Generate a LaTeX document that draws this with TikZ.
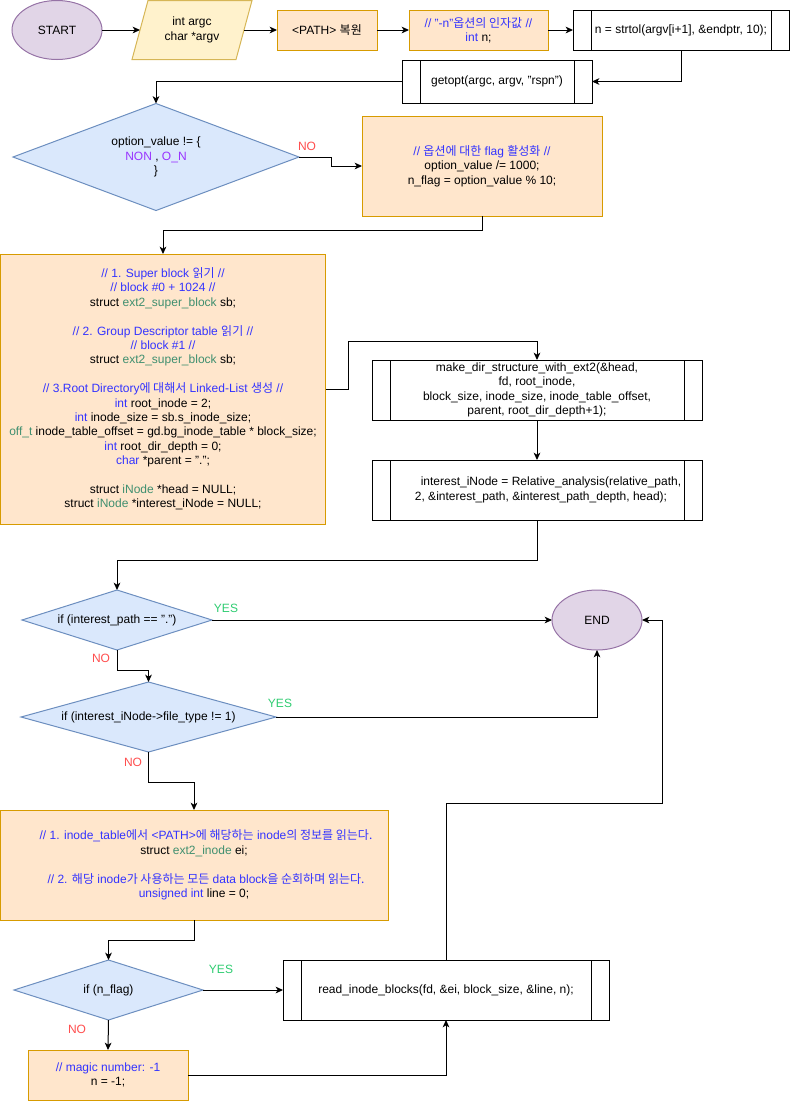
\documentclass[tikz,border=0pt]{standalone}
\usepackage{fontspec}
\setmainfont{Liberation Sans}
\newfontfamily\krfont{Noto Sans CJK KR}
\newcommand\hk[1]{{\krfont #1}}
\usetikzlibrary{shapes.geometric,arrows.meta}
\definecolor{cmt}{HTML}{3333FF}
\definecolor{typ}{HTML}{3F8F6F}
\definecolor{pur}{HTML}{9933FF}
\definecolor{nored}{HTML}{FF4D4D}
\definecolor{yesgr}{HTML}{2ECC71}
\definecolor{ellF}{HTML}{E1D5E7}
\definecolor{ellD}{HTML}{9673A6}
\definecolor{parF}{HTML}{FFF2CC}
\definecolor{parD}{HTML}{D6B656}
\definecolor{orF}{HTML}{FFE6CC}
\definecolor{orD}{HTML}{D79B00}
\definecolor{diaF}{HTML}{DAE8FC}
\definecolor{diaD}{HTML}{6C8EBF}
\newcommand\cmnt[1]{\textcolor{cmt}{#1}}
\newcommand\tyc[1]{\textcolor{typ}{#1}}
\begin{document}
\begin{tikzpicture}[x=0.75pt,y=-0.75pt,
  every node/.style={font=\fontsize{9}{10.8}\selectfont, inner sep=0pt, outer sep=0pt, align=center, text=black},
  sz/.style 2 args={minimum width=#1*0.75pt, minimum height=#2*0.75pt},
  termnode/.style={ellipse, draw=ellD, fill=ellF, line width=0.75pt},
  orbox/.style={rectangle, draw=orD, fill=orF, line width=0.75pt},
  procbox/.style={rectangle, draw=black, fill=white, line width=0.75pt},
  decision/.style={diamond, draw=diaD, fill=diaF, line width=0.75pt},
  arr/.style={-{Stealth[length=5.5pt,width=5pt,inset=1.5pt]}, line width=0.75pt, draw=black},
  nolbl/.style={text=nored},
  yeslbl/.style={text=yesgr},
]
\useasboundingbox (0,0) rectangle (790,1101);

% ---- top row
\node[termnode, sz={90}{59}] (start) at (57,30) {START};
\draw[draw=parD, fill=parF, line width=0.75pt] (148,0.5) -- (252,0.5) -- (236,59.5) -- (132,59.5) -- cycle;
\node[sz={104}{59}] (arg) at (192,30) {int argc\\char *argv};
\node[orbox, sz={100}{40}] (restore) at (327,30) {<PATH> \hk{복원}};
\node[orbox, sz={139}{40}] (nopt) at (478.5,30) {\cmnt{// "-n"\hk{옵션의 인자값} //}\\\cmnt{int} n;};
\node[procbox, sz={216}{40}] (strtol) at (681,30) {n = strtol(argv[i+1], \&endptr, 10);};
\node[procbox, sz={190}{43}] (getopt) at (497,81.5) {getopt(argc, argv, "rspn")};

% ---- option check
\node[decision, sz={286}{107}] (d1) at (156,157) {};
\node (d1t) at (d1.center) {option\_value != \{\\\textcolor{pur}{NON} , \textcolor{pur}{O\_N}\\\}};
\node[orbox, sz={240}{100}] (opt) at (482,166) {\cmnt{// \hk{옵션에 대한} flag \hk{활성화} //}\\option\_value /= 1000;\\n\_flag = option\_value \% 10;};

% ---- big init box
\node[orbox, sz={325}{270}] (big) at (163,389) {%
\cmnt{// 1. Super block \hk{읽기} //}\\
\cmnt{// block \#0 + 1024 //}\\
struct \tyc{ext2\_super\_block} sb;\\[10.8pt]
\cmnt{// 2. Group Descriptor table \hk{읽기} //}\\
\cmnt{// block \#1 //}\\
struct \tyc{ext2\_super\_block} sb;\\[10.8pt]
\cmnt{// 3.Root Directory\hk{에 대해서} Linked-List \hk{생성} //}\\
\cmnt{int} root\_inode = 2;\\
\cmnt{int} inode\_size = sb.s\_inode\_size;\\
\tyc{off\_t} inode\_table\_offset = gd.bg\_inode\_table * block\_size;\\
\cmnt{int} root\_dir\_depth = 0;\\
\cmnt{char} *parent = ".";\\[10.8pt]
struct \tyc{iNode} *head = NULL;\\
struct \tyc{iNode} *interest\_iNode = NULL;};

\node[procbox, sz={330}{60}] (make) at (537,390) {make\_dir\_structure\_with\_ext2(\&head,\\fd, root\_inode,\\block\_size, inode\_size, inode\_table\_offset,\\parent, root\_dir\_depth+1);};
\node[procbox, sz={330}{60}] (rel) at (537,490) {\hspace*{21pt}interest\_iNode = Relative\_analysis(relative\_path,\\\hspace*{6pt}2, \&interest\_path, \&interest\_path\_depth, head);};

% ---- decisions
\node[decision, sz={190}{60}] (d2) at (117,620) {};
\node (d2t) at (d2.center) {if (interest\_path == ".")};
\node[termnode, sz={90}{60}] (finish) at (597,620) {END};
\node[decision, sz={255}{70}] (d3) at (148.5,717) {};
\node (d3t) at (d3.center) {if (interest\_iNode->file\_type != 1)};

\node[orbox, sz={388}{110}] (read1) at (194,865) {%
\hspace*{18pt}\cmnt{// 1. inode\_table\hk{에서} <PATH>\hk{에 해당하는} inode\hk{의 정보를 읽는다.}}\\
struct \tyc{ext2\_inode} ei;\\[10.8pt]
\hspace*{18pt}\cmnt{// 2. \hk{해당} inode\hk{가 사용하는 모든} data block\hk{을 순회하며 읽는다.}}\\
\cmnt{unsigned int} line = 0;};

\node[decision, sz={189}{60}] (d4) at (108.5,990) {};
\node (d4t) at (d4.center) {if (n\_flag)};
\node[procbox, sz={326}{60}] (rib) at (446,990) {read\_inode\_blocks(fd, \&ei, block\_size, \&line, n);};
\node[orbox, sz={160}{50}] (magic) at (108,1075) {\cmnt{// magic number: -1}\\n = -1;};

% ---- process inner bars
\foreach \n in {strtol,getopt,make,rel,rib}{
  \draw[line width=0.75pt] ([xshift=13.5pt]\n.north west) -- ([xshift=13.5pt]\n.south west);
  \draw[line width=0.75pt] ([xshift=-13.5pt]\n.north east) -- ([xshift=-13.5pt]\n.south east);
}

% ---- connectors
\draw[arr] (start.east) -- (arg.west);
\draw[arr] (arg.east) -- (restore.west);
\draw[arr] (restore.east) -- (nopt.west);
\draw[arr] (nopt.east) -- (strtol.west);
\draw[arr] (strtol.south) |- (getopt.east);
\draw[arr] (getopt.west) -| (d1.north);
\draw[arr] (d1.east) -- ++(32,0) |- (opt.west);
\draw[arr] (opt.south) -- ++(0,14) -| (big.north);
\draw[arr] (big.east) -- ++(23,0) -- ++(0,-48) -| (make.north);
\draw[arr] (make.south) -- (rel.north);
\draw[arr] (rel.south) -- ++(0,40) -| (d2.north);
\draw[arr] (d2.east) -- (finish.west);
\draw[arr] (d2.south) -- ++(0,20) -| (d3.north);
\draw[arr] (d3.east) -| (finish.south);
\draw[arr] (d3.south) -- ++(0,30) -| (read1.north);
\draw[arr] (read1.south) -- ++(0,20) -| (d4.north);
\draw[arr] (d4.east) -- (rib.west);
\draw[arr] (d4.south) -- (magic.north);
\draw[arr] (magic.east) -| (rib.south);
\draw[arr] (rib.north) -- ++(0,-157) -- ++(216,0) |- (finish.east);

% ---- labels
\node[nolbl] (no1) at (307,146) {NO};
\node[yeslbl] (yes1) at (226,608) {YES};
\node[nolbl] (no2) at (101,658) {NO};
\node[yeslbl] (yes2) at (280,703) {YES};
\node[nolbl] (no3) at (133,762) {NO};
\node[yeslbl] (yes3) at (221,969) {YES};
\node[nolbl] (no4) at (77,1029) {NO};
\end{tikzpicture}
\end{document}
